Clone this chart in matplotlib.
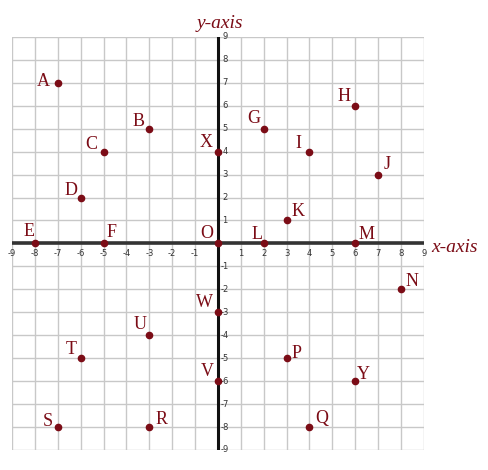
import matplotlib
matplotlib.use("Agg")
import matplotlib.pyplot as plt

# point names and coordinates
names = ["A", "B", "C", "D", "E", "F", "G", "H", "I", "J", "K", "L", "M",
         "N", "O", "P", "Q", "R", "S", "T", "U", "V", "W", "X", "Y"]
xs = [-7, -3, -5, -6, -8, -5, 2, 6, 4, 7, 3, 2, 6,
      8, 0, 3, 4, -3, -7, -6, -3, 0, 0, 0, 6]
ys = [7, 5, 4, 2, 0, 0, 5, 6, 4, 3, 1, 0, 0,
      -2, 0, -5, -8, -8, -8, -5, -4, -6, -3, 4, -6]
# label offsets in pixels (dx, dy)
label_dx = [-14, -11, -12, -10, -6, 8, -10, -11, -11, 9, 11, -7, 11,
            11, -11, 10, 12, 12, -10, -9, -9, -11, -13, -12, 8]
label_dy = [1, 7, 7, 7, 12, 11, 10, 9, 8, 10, 9, 9, 9,
            8, 10, 5, 9, 8, 6, 9, 11, 10, 10, 9, 7]

ticks = list(range(-9, 10))
dark_red = "#7b0c16"

fig = plt.figure(figsize=(4.88, 4.70), dpi=100)
ax = fig.add_axes([0.0246, 0.0426, 0.844, 0.879])
ax.set_xlim(-9, 9)
ax.set_ylim(-9, 9)
for s in ax.spines.values():
    s.set_visible(False)
ax.set_xticks([])
ax.set_yticks([])

for t in ticks:
    ax.axvline(t, color="#c8c8c8", lw=1.0, zorder=1)
    ax.axhline(t, color="#c8c8c8", lw=1.0, zorder=1)
ax.axhline(0, color="#333333", lw=2.6, zorder=2)
ax.axvline(0, color="#111111", lw=2.2, zorder=2)

for t in ticks:
    if t == 0:
        continue
    ax.annotate(str(t), (t, 0), xytext=(0, -10), textcoords="offset pixels",
                ha="center", va="center", fontsize=6, color="#333333")
    ax.annotate(str(t), (0, t), xytext=(7, 0), textcoords="offset pixels",
                ha="center", va="center", fontsize=6, color="#333333")

ax.plot(xs, ys, "o", color=dark_red, markersize=4.5, zorder=3, clip_on=False)
for n, x, y, dx, dy in zip(names, xs, ys, label_dx, label_dy):
    ax.annotate(n, (x, y), xytext=(dx, dy), textcoords="offset pixels",
                ha="center", va="center", fontsize=13, color=dark_red,
                family="Liberation Serif")

fig.text(220 / 488, 1 - 24 / 470, "y-axis", ha="center", va="center",
         fontsize=14, style="italic", color=dark_red, family="Liberation Serif")
fig.text(454 / 488, 1 - 247 / 470, "x-axis", ha="center", va="center",
         fontsize=14, style="italic", color=dark_red, family="Liberation Serif")

fig.savefig("out.png", dpi=100)
